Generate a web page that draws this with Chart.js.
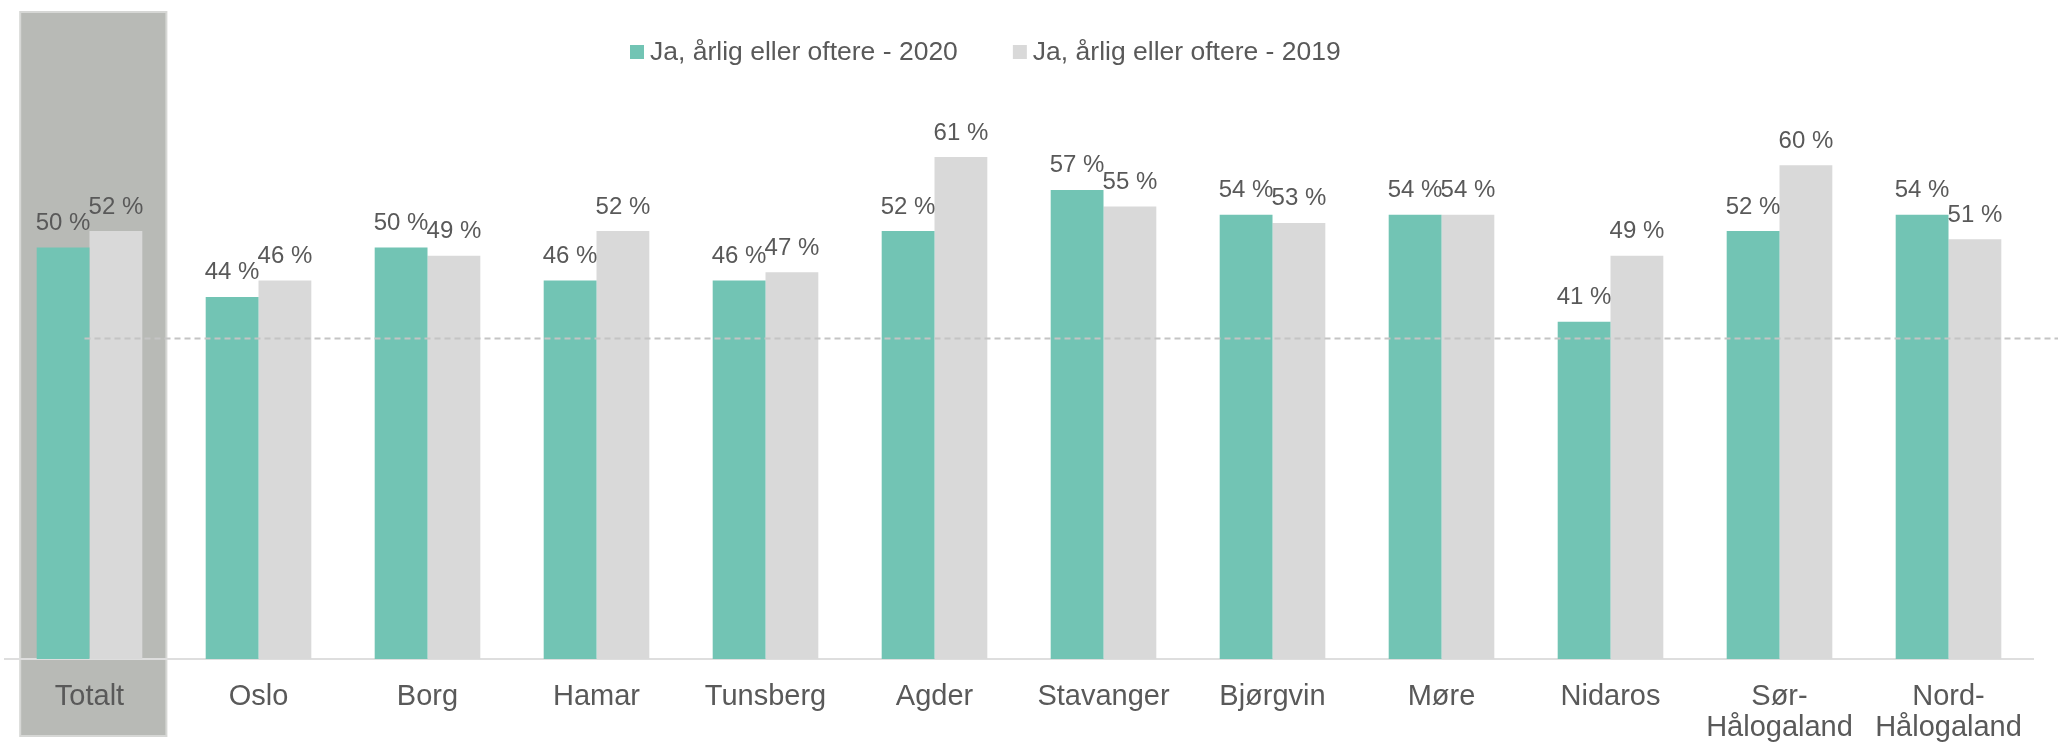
<!DOCTYPE html>
<html lang="no">
<head>
<meta charset="utf-8">
<title>Ja, årlig eller oftere – 2020 og 2019</title>
<script src="https://cdn.jsdelivr.net/npm/chart.js@4.4.1/dist/chart.umd.min.js"></script>
<style>
  html, body { margin: 0; padding: 0; background: #ffffff; }
  #wrap { width: 2062px; height: 744px; position: relative; }
</style>
</head>
<body>
<div id="wrap"><canvas id="chart"></canvas></div>
<script>
// Categories (dioceses) and shares per year, in percent
const categories = ['Totalt', 'Oslo', 'Borg', 'Hamar', 'Tunsberg', 'Agder', 'Stavanger',
  'Bjørgvin', 'Møre', 'Nidaros', ['Sør-', 'Hålogaland'], ['Nord-', 'Hålogaland']];
const values2020 = [50, 44, 50, 46, 46, 52, 57, 54, 54, 41, 52, 54];
const values2019 = [52, 46, 49, 52, 47, 61, 55, 53, 54, 49, 60, 51];
const seriesLabels = ['Ja, årlig eller oftere - 2020', 'Ja, årlig eller oftere - 2019'];
const referenceLevel = 39;

const TEAL = '#72c4b4';
const LIGHT = '#d9d9d9';
const TEXT = '#595959';
const FONT = '"Liberation Sans", Arial, Helvetica, sans-serif';

// Shaded panel behind the "Totalt" group
const totalPanel = {
  id: 'totalPanel',
  beforeDraw(chart) {
    const ctx = chart.ctx;
    const x = chart.scales.x;
    const cx = x.getPixelForValue(0);
    const step = x.getPixelForValue(1) - cx;
    const left = cx - step * 0.41;
    const right = cx + step * 0.455;
    ctx.save();
    ctx.fillStyle = '#b8bab6';
    ctx.fillRect(left, 12, right - left, 724);
    ctx.strokeStyle = '#d6d7d5';
    ctx.lineWidth = 2;
    ctx.strokeRect(left, 12, right - left, 724);
    ctx.restore();
  }
};

// Dashed reference line and value labels above bars
const overlay = {
  id: 'overlay',
  afterDatasetsDraw(chart) {
    const ctx = chart.ctx;
    const x = chart.scales.x;
    const y = chart.scales.y;
    ctx.save();
    // value labels
    ctx.font = '24px ' + FONT;
    ctx.fillStyle = TEXT;
    ctx.textAlign = 'center';
    ctx.textBaseline = 'alphabetic';
    chart.data.datasets.forEach((ds, di) => {
      chart.getDatasetMeta(di).data.forEach((bar, i) => {
        ctx.fillText(ds.data[i] + ' %', bar.x, bar.y - 17.5);
      });
    });
    // reference line
    const ry = Math.round(y.getPixelForValue(referenceLevel)) + 0.5;
    ctx.strokeStyle = '#c4c4c4';
    ctx.lineWidth = 2;
    ctx.setLineDash([6, 4]);
    ctx.beginPath();
    ctx.moveTo(x.getPixelForValue(0) - 5, ry);
    ctx.lineTo(chart.width - 4, ry);
    ctx.stroke();
    ctx.restore();
  }
};

// Legend row at the top
const legendRow = {
  id: 'legendRow',
  afterDraw(chart) {
    const ctx = chart.ctx;
    const stretch = 1.06;
    let xPos = 630;
    const box = 14, boxTop = 45, baseline = 60, gapText = 6, gapItem = 55;
    ctx.save();
    ctx.font = '25px ' + FONT;
    ctx.textBaseline = 'alphabetic';
    chart.data.datasets.forEach((ds) => {
      ctx.fillStyle = ds.backgroundColor;
      ctx.fillRect(xPos, boxTop, box, box);
      xPos += box + gapText;
      const w = ctx.measureText(ds.label).width * stretch;
      ctx.save();
      ctx.translate(xPos, baseline);
      ctx.scale(stretch, 1);
      ctx.fillStyle = TEXT;
      ctx.textAlign = 'left';
      ctx.fillText(ds.label, 0, 0);
      ctx.restore();
      xPos += w + gapItem;
    });
    ctx.restore();
  }
};

new Chart(document.getElementById('chart'), {
  type: 'bar',
  data: {
    labels: categories,
    datasets: [
      { label: seriesLabels[0], data: values2020, backgroundColor: TEAL },
      { label: seriesLabels[1], data: values2019, backgroundColor: LIGHT }
    ]
  },
  options: {
    responsive: true,
    maintainAspectRatio: false,
    animation: false,
    events: [],
    layout: { padding: { top: 83, left: 5, right: 29, bottom: 0 } },
    datasets: { bar: { categoryPercentage: 0.625, barPercentage: 1.0 } },
    plugins: { legend: { display: false }, tooltip: { enabled: false } },
    scales: {
      x: {
        grid: { display: false },
        border: { display: true, color: '#dedede', width: 2 },
        ticks: {
          color: TEXT,
          font: { family: FONT, size: 29, lineHeight: 1.08 },
          padding: 14,
          maxRotation: 0,
          autoSkip: false
        },
        afterFit(scale) { scale.height = 85; }
      },
      y: { display: false, min: 0, max: 70 }
    }
  },
  plugins: [totalPanel, overlay, legendRow]
});
</script>
</body>
</html>
